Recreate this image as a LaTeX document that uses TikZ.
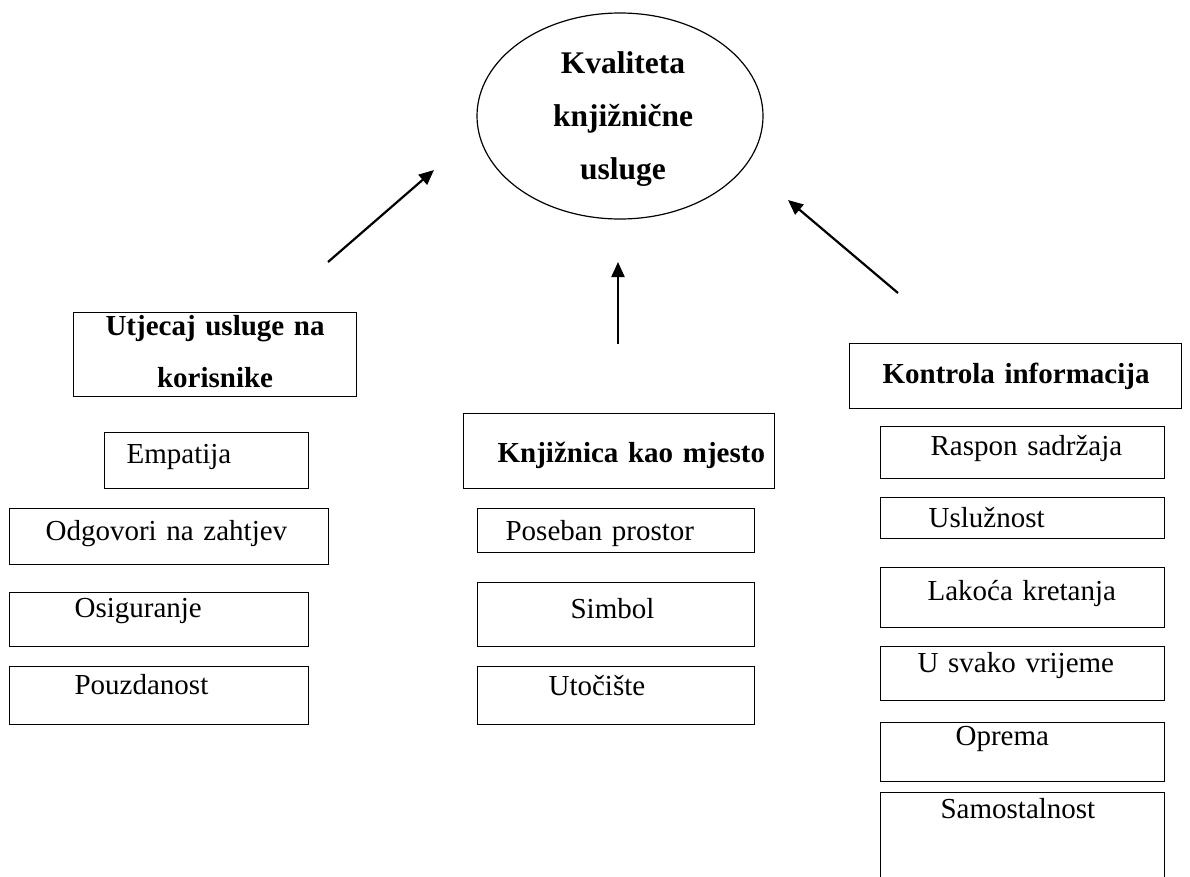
\documentclass[tikz,border=0pt]{standalone}
\usepackage{fontspec}
\setmainfont{Liberation Serif}
\usetikzlibrary{shapes.geometric,arrows.meta}
\tikzset{
  okvir/.style n args={3}{draw, line width=1.2pt, inner sep=0pt, anchor=north west, align=left,
    text width=#1, text height=#2, text depth=#3, font=\fontsize{29}{52}\selectfont},
  naslov/.style={font=\fontsize{29}{52}\selectfont\bfseries},
  strelica/.style={line width=2.2pt, -{Triangle[length=15pt,width=13pt]}}
}
\begin{document}
\begin{tikzpicture}[x=1pt,y=-1pt]
  \useasboundingbox (0,0) rectangle (1190,876);
  \clip (0,0) rectangle (1190,876);
  % Glavni pojam
  \node[draw, ellipse, line width=1.2pt, minimum width=286pt, minimum height=206pt, inner sep=0pt,
    align=center, font=\fontsize{31.5}{53}\selectfont\bfseries] (kvaliteta) at (620,116) {};
  \node[align=center, font=\fontsize{31.5}{53}\selectfont\bfseries] (kvalitetatekst) at (623,119)
    {Kvaliteta\\knjižnične\\usluge};
  % Strelice
  \coordinate (lijevo1) at (328,262);  \coordinate (lijevo2) at (434,170);
  \coordinate (sredina1) at (618,344); \coordinate (sredina2) at (618,262);
  \coordinate (desno1) at (898,293);   \coordinate (desno2) at (788,200);
  \draw[strelica] (lijevo1) -- (lijevo2);
  \draw[strelica] (sredina1) -- (sredina2);
  \draw[strelica] (desno1) -- (desno2);
  % Lijevi stupac
  \node[okvir={283pt}{23pt}{61pt}, align=center, naslov] (utjecaj) at (73,312) {Utjecaj usluge na\\korisnike};
  \node[okvir={204pt}{31pt}{25pt}] (empatija) at (104,432) {\hspace*{22pt}Empatija};
  \node[okvir={319pt}{32pt}{24pt}] (odgovori) at (9,508) {\hspace*{36pt}Odgovori na zahtjev};
  \node[okvir={299pt}{25pt}{29pt}] (osiguranje) at (9,592) {\hspace*{65pt}Osiguranje};
  \node[okvir={299pt}{28pt}{30pt}] (pouzdanost) at (9,666) {\hspace*{65pt}Pouzdanost};
  % Srednji stupac
  \node[okvir={311pt}{49pt}{26pt}, naslov] (knjiznica) at (463,413) {\hspace*{34pt}Knjižnica kao mjesto};
  \node[okvir={277pt}{32pt}{12pt}] (poseban) at (477,508) {\hspace*{28pt}Poseban prostor};
  \node[okvir={277pt}{36pt}{28pt}] (simbol) at (477,582) {\hspace*{93pt}Simbol};
  \node[okvir={277pt}{29pt}{29pt}] (utociste) at (477,666) {\hspace*{71pt}Utočište};
  % Desni stupac
  \node[okvir={332pt}{40pt}{25pt}, naslov] (kontrola) at (849,343) {\hspace*{33pt}Kontrola informacija};
  \node[okvir={284pt}{29pt}{23pt}] (raspon) at (880,426) {\hspace*{50pt}Raspon sadržaja};
  \node[okvir={284pt}{30pt}{11pt}] (usluznost) at (880,497) {\hspace*{48pt}Uslužnost};
  \node[okvir={284pt}{33pt}{27pt}] (lakoca) at (880,567) {\hspace*{47pt}Lakoća kretanja};
  \node[okvir={284pt}{26pt}{28pt}] (usvako) at (880,646) {\hspace*{37pt}U svako vrijeme};
  \node[okvir={284pt}{23pt}{36pt}] (oprema) at (880,722) {\hspace*{75pt}Oprema};
  \node[okvir={284pt}{26pt}{84pt}] (samostalnost) at (880,792) {\hspace*{60pt}Samostalnost};
\end{tikzpicture}
\end{document}
